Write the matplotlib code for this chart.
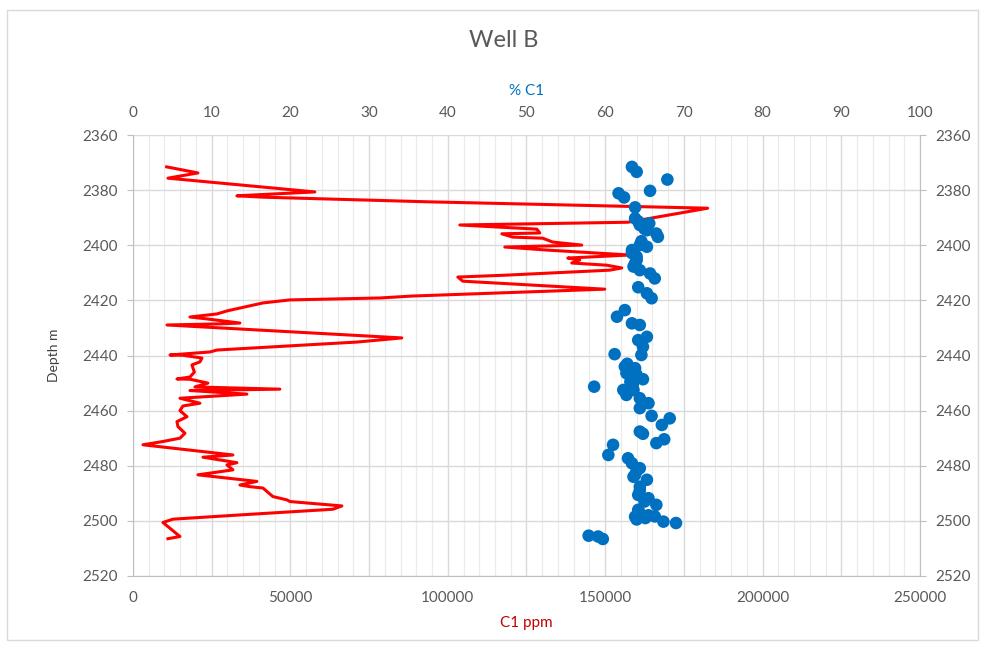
import matplotlib.pyplot as plt
from matplotlib.ticker import MultipleLocator, FuncFormatter
from matplotlib.patches import Rectangle

plt.rcParams['font.family'] = ['Lato', 'DejaVu Sans']

# C1 gas log (ppm) against depth
c1_ppm = [10700, 20640, 11110, 57785, 33020, 41275, 94300, 182560, 157160, 103820,
          128270, 129220, 117160, 120650, 130175, 133350, 142560, 118110, 131445, 157800,
          138110, 141920, 139380, 150500, 155260, 151450, 118745, 103190, 104775, 149860,
          88580, 78420, 49850, 41275, 29845, 26670, 18100, 23500, 33970, 27620,
          10800, 85400, 71120, 26670, 24450, 11750, 15875, 21900, 21270, 18730,
          19500, 18100, 13970, 18100, 23800, 19685, 46670, 18100, 36200, 14920,
          21270, 15875, 14920, 17150, 13970, 14290, 16510, 14920, 9525, 3175,
          31750, 22225, 33020, 29845, 31750, 20640, 39370, 33970, 37150, 41275,
          44450, 48900, 49850, 66360, 63500, 34925, 12700, 9525, 14920, 11110]
c1_depth = [2371.5, 2373.7, 2375.6, 2380.6, 2382.0, 2382.5, 2384.2, 2386.5, 2391.6, 2392.6,
            2394.1, 2395.5, 2395.8, 2397.0, 2397.4, 2398.8, 2399.9, 2400.6, 2401.7, 2403.5,
            2404.6, 2405.3, 2406.4, 2407.2, 2408.2, 2409.0, 2410.8, 2411.5, 2413.0, 2415.9,
            2418.4, 2419.1, 2419.8, 2420.9, 2423.8, 2424.9, 2426.0, 2426.7, 2428.2, 2428.5,
            2428.9, 2433.6, 2435.1, 2438.0, 2438.7, 2439.8, 2439.9, 2440.9, 2442.3, 2443.4,
            2446.0, 2447.8, 2448.5, 2448.6, 2450.0, 2451.4, 2452.2, 2452.7, 2454.0, 2455.5,
            2457.3, 2458.3, 2460.0, 2462.2, 2464.0, 2465.8, 2468.2, 2470.0, 2471.2, 2472.4,
            2476.1, 2476.9, 2478.9, 2479.7, 2481.5, 2483.3, 2485.7, 2487.0, 2487.6, 2488.1,
            2491.2, 2492.4, 2493.0, 2494.6, 2495.8, 2497.8, 2499.4, 2500.6, 2505.7, 2506.5]

# % C1 samples against depth
pct_c1 = [63.4, 64.0, 67.9, 65.7, 61.7, 62.4, 63.8, 63.8, 64.4, 65.6,
          65.3, 66.5, 66.7, 64.4, 65.3, 63.4, 64.0, 63.8, 64.4, 65.7,
          66.3, 64.2, 65.3, 65.9, 62.5, 61.5, 63.4, 64.4, 65.3, 64.2,
          64.8, 64.6, 61.2, 62.5, 63.8, 62.7, 64.0, 64.8, 63.2, 58.6,
          62.3, 63.6, 62.7, 64.4, 65.5, 64.4, 65.9, 68.2, 67.2, 64.4,
          64.8, 66.5, 67.5, 61.0, 60.4, 62.9, 63.4, 64.4, 63.8, 65.3,
          64.4, 64.2, 65.5, 66.5, 64.4, 65.1, 66.3, 67.4, 69.0, 57.9,
          59.1, 59.7, 63.0, 63.5, 62.8, 64.0, 63.6, 64.4, 65.0, 64.2,
          63.8, 64.0, 65.5, 63.4, 64.0, 63.6, 64.6, 65.0, 64.2]
pct_depth = [2371.5, 2373.3, 2376.1, 2380.2, 2381.1, 2382.6, 2386.2, 2390.2, 2392.6, 2392.0,
             2394.5, 2395.7, 2396.9, 2399.9, 2400.5, 2401.7, 2404.1, 2406.5, 2409.0, 2410.2,
             2412.0, 2415.2, 2417.4, 2419.2, 2423.5, 2425.9, 2428.3, 2428.9, 2433.2, 2434.4,
             2436.8, 2439.8, 2439.5, 2444.0, 2444.6, 2446.4, 2447.0, 2448.6, 2449.5, 2451.3,
             2452.5, 2452.5, 2454.3, 2455.5, 2457.3, 2459.1, 2461.9, 2462.8, 2465.2, 2467.6,
             2468.4, 2471.8, 2470.4, 2472.4, 2476.1, 2477.3, 2479.1, 2480.9, 2483.3, 2485.1,
             2487.6, 2490.6, 2491.8, 2494.2, 2497.2, 2499.0, 2498.4, 2500.3, 2500.8, 2505.4,
             2505.7, 2506.6, 2445.5, 2450.5, 2443.0, 2481.8, 2484.0, 2489.0, 2493.0, 2496.0,
             2498.5, 2499.5, 2498.0, 2402.8, 2405.3, 2407.7, 2398.5, 2394.0, 2391.3]

text_grey = '#595959'
axis_grey = '#BFBFBF'

fig = plt.figure(figsize=(9.85, 6.5), dpi=100)
fig.patches.append(Rectangle((0.007, 0.015), 0.986, 0.97, transform=fig.transFigure,
                             fill=False, edgecolor='#D9D9D9', lw=1))
fig.text(0.511, 0.938, 'Well B', ha='center', va='center', fontsize=17, color=text_grey)

ax = fig.add_axes([0.135, 0.114, 0.799, 0.678])
ax.plot(c1_ppm, c1_depth, color='#FF0000', lw=2.2, zorder=3, solid_joinstyle='round')
ax.set_xlim(0, 250000)
ax.set_ylim(2520, 2360)

ax.xaxis.set_major_locator(MultipleLocator(25000))
ax.xaxis.set_minor_locator(MultipleLocator(5000))
ax.xaxis.set_major_formatter(FuncFormatter(lambda v, p: '%d' % v if v % 50000 == 0 else ''))
ax.yaxis.set_major_locator(MultipleLocator(20))
ax.grid(which='major', color='#D9D9D9', lw=1)
ax.grid(which='minor', axis='x', color='#EBEBEB', lw=0.9)
ax.set_axisbelow(True)

ax.tick_params(axis='x', which='both', length=0, labelsize=11, labelcolor=text_grey, pad=11)
ax.tick_params(axis='y', length=4, color=axis_grey, right=True, labelright=True,
               labelsize=11, labelcolor=text_grey, pad=7)
for side in ['left', 'right', 'bottom']:
    ax.spines[side].set_color(axis_grey)
ax.spines['top'].set_visible(False)

ax.set_xlabel('C1 ppm', color='#C00000', fontsize=11, labelpad=8)
ax.set_ylabel('Depth m', color='#404040', fontsize=10, labelpad=16)

ax2 = ax.twiny()
ax2.scatter(pct_c1, pct_depth, s=82, color='#0070C0', edgecolors='none', zorder=4)
ax2.set_xlim(0, 100)
ax2.set_ylim(2520, 2360)
ax2.xaxis.set_major_locator(MultipleLocator(10))
ax2.tick_params(axis='x', length=0, labelsize=11, labelcolor=text_grey, pad=11)
for side in ['left', 'right', 'bottom', 'top']:
    ax2.spines[side].set_visible(False)
ax2.set_xlabel('% C1', color='#0070C0', fontsize=11, labelpad=8)

fig.savefig('out.png', dpi=100)
